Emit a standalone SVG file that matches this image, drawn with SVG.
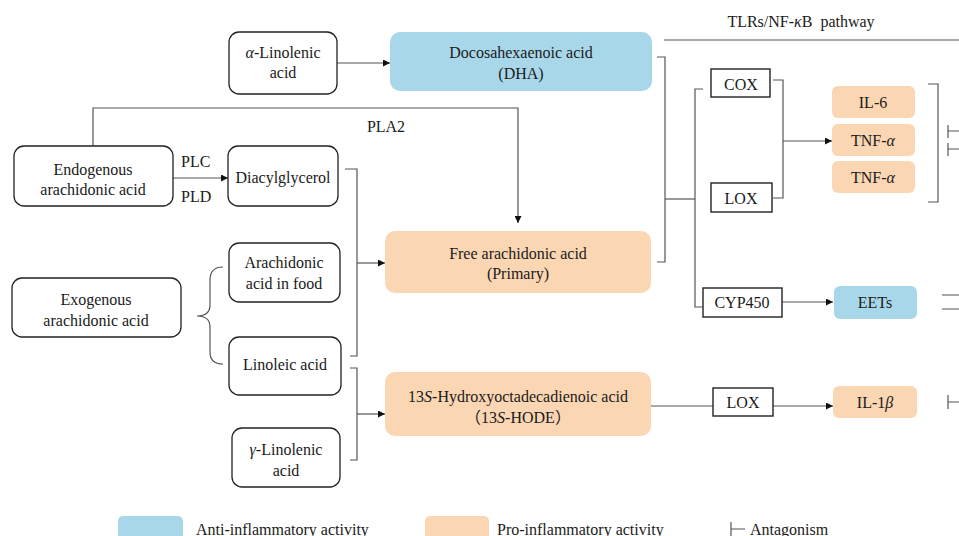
<svg xmlns="http://www.w3.org/2000/svg" width="959" height="536" viewBox="0 0 959 536">
<defs>
<marker id="ah" viewBox="0 0 10 10" refX="10" refY="5" markerWidth="7" markerHeight="7" markerUnits="userSpaceOnUse" orient="auto"><path d="M0,0 L10,5 L0,10 z" fill="#111"/></marker>
<style>
text{font-family:"Liberation Serif","Times New Roman",serif;font-size:16px;fill:#1a1a1a;text-anchor:middle;dominant-baseline:central}
.w{fill:#fff;stroke:#222;stroke-width:1.3}
.sq{fill:#fff;stroke:#222;stroke-width:1.4}
.blue{fill:#a9d7ea}
.peach{fill:#fad6b3}
.c{fill:none;stroke:#555;stroke-width:1.2}
.a{fill:none;stroke:#555;stroke-width:1.2;marker-end:url(#ah)}
.l{text-anchor:start}
</style>
</defs>

<g id="connectors">
<path class="a" d="M337,63 H390"/>
<path class="a" d="M93,146 V108 H518 V223"/>
<path class="a" d="M173,178 H228"/>
<path class="c" d="M345,169 H357 V356 H350"/>
<path class="a" d="M357,263 H385"/>
<path class="c" d="M350,368 H357 V460 H350"/>
<path class="a" d="M357,414 H385"/>
<path class="c" d="M223,267 Q210,267 210,280 V305 Q210,316 197,316 Q210,316 210,327 V352 Q210,364 223,364"/>
<path class="c" d="M664,40 H959"/>
<path class="c" d="M657,57 H665 V262 H657"/>
<path class="c" d="M665,199 H695"/>
<path class="c" d="M703,89 H695 V307 H703"/>
<path class="c" d="M773,80 H783 V198 H773"/>
<path class="a" d="M783,141 H832"/>
<path class="c" d="M928,84 H938 V202 H928"/>
<path class="a" d="M782,302 H833"/>
<path class="c" d="M651,406 H713"/>
<path class="a" d="M773,406 H833"/>
<path class="c" d="M948,125 V138 M948,131 H959 M948,143 V156 M948,149 H959"/>
<path class="c" d="M942,295 H959 M942,309 H959"/>
<path class="c" d="M948,395 V409 M948,402 H959"/>
</g>

<g id="alpha-linolenic"><rect class="w" x="229" y="32" width="108" height="62" rx="10"/><text x="283" y="52"><tspan font-style="italic">α</tspan>-Linolenic</text><text x="283" y="72">acid</text></g>
<g id="dha"><rect class="blue" x="390" y="32" width="262" height="59" rx="10"/><text x="521" y="52">Docosahexaenoic acid</text><text x="521" y="73">(DHA)</text></g>
<g id="pla2-label"><text x="386" y="126">PLA2</text></g>
<g id="endogenous"><rect class="w" x="14" y="146" width="159" height="60" rx="10"/><text x="93" y="169">Endogenous</text><text x="93" y="189">arachidonic acid</text></g>
<g id="plc-pld"><text class="l" x="181" y="161">PLC</text><text class="l" x="181" y="196">PLD</text></g>
<g id="diacylglycerol"><rect class="w" x="228" y="146" width="110" height="60" rx="10"/><text x="283" y="177">Diacylglycerol</text></g>
<g id="free-aa"><rect class="peach" x="385" y="231" width="266" height="62" rx="10"/><text x="518" y="253">Free arachidonic acid</text><text x="518" y="273">(Primary)</text></g>
<g id="aa-food"><rect class="w" x="229" y="243" width="111" height="59" rx="10"/><text x="284" y="262">Arachidonic</text><text x="284" y="283">acid in food</text></g>
<g id="exogenous"><rect class="w" x="12" y="278" width="169" height="59" rx="10"/><text x="96" y="299">Exogenous</text><text x="96" y="320">arachidonic acid</text></g>
<g id="linoleic"><rect class="w" x="229" y="337" width="112" height="58" rx="10"/><text x="285" y="364">Linoleic acid</text></g>
<g id="hode"><rect class="peach" x="385" y="372" width="266" height="64" rx="10"/><text x="518" y="396">13<tspan font-style="italic">S</tspan>-Hydroxyoctadecadienoic acid</text><text x="518" y="417" style="font-family:'Liberation Serif','Noto Sans CJK SC',serif">（13<tspan font-style="italic">S</tspan>-HODE）</text></g>
<g id="gamma-linolenic"><rect class="w" x="232" y="428" width="108" height="59" rx="10"/><text x="286" y="449"><tspan font-style="italic">γ</tspan>-Linolenic</text><text x="286" y="470">acid</text></g>
<g id="pathway-label"><text x="801" y="21" xml:space="preserve">TLRs/NF-<tspan font-style="italic">κ</tspan>B  pathway</text></g>
<g id="cox"><rect class="sq" x="711" y="69" width="59" height="28"/><text x="741" y="84">COX</text></g>
<g id="lox1"><rect class="sq" x="711" y="183" width="61" height="29"/><text x="741" y="198">LOX</text></g>
<g id="il6"><rect class="peach" x="832" y="86" width="83" height="32" rx="6"/><text x="873" y="102">IL-6</text></g>
<g id="tnf1"><rect class="peach" x="832" y="124" width="83" height="32" rx="6"/><text x="873" y="140">TNF-<tspan font-style="italic">α</tspan></text></g>
<g id="tnf2"><rect class="peach" x="832" y="161" width="83" height="32" rx="6"/><text x="873" y="177">TNF-<tspan font-style="italic">α</tspan></text></g>
<g id="cyp450"><rect class="sq" x="703" y="288" width="79" height="29"/><text x="742" y="302">CYP450</text></g>
<g id="eets"><rect class="blue" x="834" y="286" width="83" height="33" rx="6"/><text x="875" y="302">EETs</text></g>
<g id="lox2"><rect class="sq" x="713" y="388" width="60" height="28"/><text x="743" y="402">LOX</text></g>
<g id="il1b"><rect class="peach" x="833" y="386" width="84" height="32" rx="6"/><text x="875" y="402">IL-1<tspan font-style="italic">β</tspan></text></g>

<g id="legend">
<rect class="blue" x="118" y="516" width="65" height="30" rx="5"/>
<text class="l" x="196" y="529">Anti-inflammatory activity</text>
<rect class="peach" x="425" y="516" width="64" height="30" rx="5"/>
<text class="l" x="497" y="529">Pro-inflammatory activity</text>
<path class="c" d="M731,522 V536 M731,529 H745"/>
<text class="l" x="750" y="529">Antagonism</text>
</g>
</svg>
